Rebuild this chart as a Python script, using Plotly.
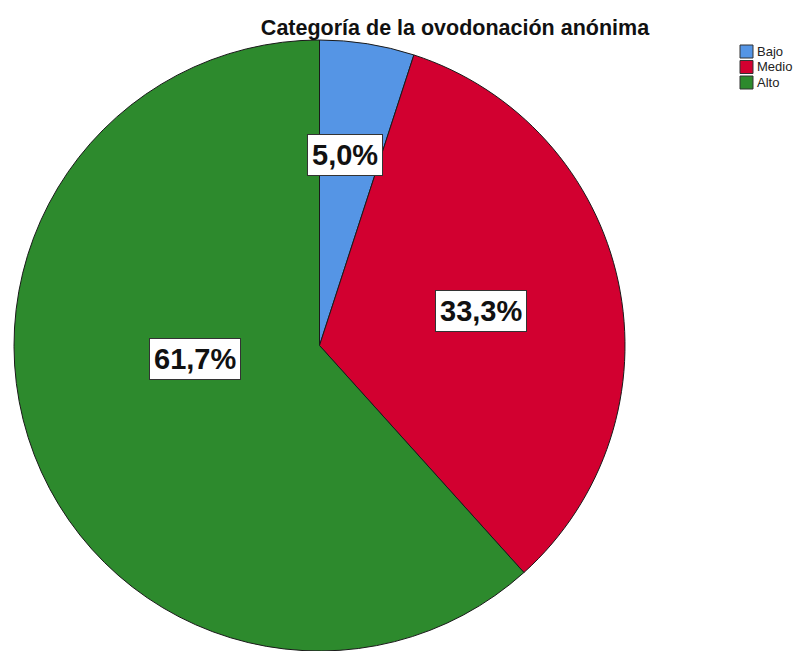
import math
import plotly.graph_objects as go

categories = ["Bajo", "Medio", "Alto"]
counts = [3, 20, 37]
colors = ["#5595E5", "#D20030", "#2D8A2D"]
title_text = "Categoría de la ovodonación anónima"

# label placement style (radius fraction, angle shift in degrees)
label_radius = [0.63, 0.54, 0.41]
label_shift = [-1.5, 0, 15]

W, H = 810, 651
top_px = 40
dom_x = [13 / W, 626 / W]
dom_y = [0, 1 - top_px / H]
FONT = "Liberation Sans, Arial, sans-serif"

fig = go.Figure(go.Pie(
    labels=categories,
    values=counts,
    sort=False,
    direction="clockwise",
    rotation=0,
    marker=dict(colors=colors, line=dict(color="#1a1a1a", width=1)),
    textinfo="none",
    hoverinfo="label+percent",
    domain=dict(x=dom_x, y=dom_y),
    showlegend=False,
))

total = sum(counts)
cx = (dom_x[0] + dom_x[1]) / 2
cy = (dom_y[0] + dom_y[1]) / 2
R = min((dom_x[1] - dom_x[0]) * W, (dom_y[1] - dom_y[0]) * H) / 2
cum = 0
for c, rf, sh in zip(counts, label_radius, label_shift):
    mid = (cum + c / 2) / total * 360 + sh
    cum += c
    a = math.radians(mid)
    x = cx + R * rf * math.sin(a) / W
    y = cy + R * rf * math.cos(a) / H
    pct = f"{c / total * 100:.1f}%".replace(".", ",")
    fig.add_annotation(
        x=x, y=y, xref="paper", yref="paper", text=f"<b>{pct}</b>",
        showarrow=False, font=dict(family=FONT, size=29, color="#111111"),
        bgcolor="white", bordercolor="#333333", borderwidth=1, borderpad=4,
        xanchor="center", yanchor="middle",
    )

# manual legend (SPSS style)
leg_x0 = 740 / W
sq_w = 13 / W
row_top = 45
pitch = 15.5
for i, (cat, col) in enumerate(zip(categories, colors)):
    ytop = 1 - (row_top + i * pitch) / H
    ybot = ytop - 13 / H
    fig.add_shape(type="rect", xref="paper", yref="paper",
                  x0=leg_x0, x1=leg_x0 + sq_w, y0=ybot, y1=ytop,
                  fillcolor=col, line=dict(color="#333333", width=1))
    fig.add_annotation(x=755 / W, y=(ytop + ybot) / 2, xref="paper", yref="paper",
                       text=cat, showarrow=False, xanchor="left", yanchor="middle",
                       font=dict(family=FONT, size=13, color="#222222"))

fig.update_layout(
    width=W, height=H,
    margin=dict(l=0, r=0, t=0, b=0),
    paper_bgcolor="white",
    title=dict(text=f"<b>{title_text}</b>", x=455 / W, xanchor="center",
               y=1 - 27 / H, yanchor="middle",
               font=dict(family=FONT, size=21.5, color="#111111")),
    showlegend=False,
)

fig.write_html("out.html", config={"displayModeBar": False},
               post_script="document.body.style.margin='0';document.body.style.overflow='hidden';")
